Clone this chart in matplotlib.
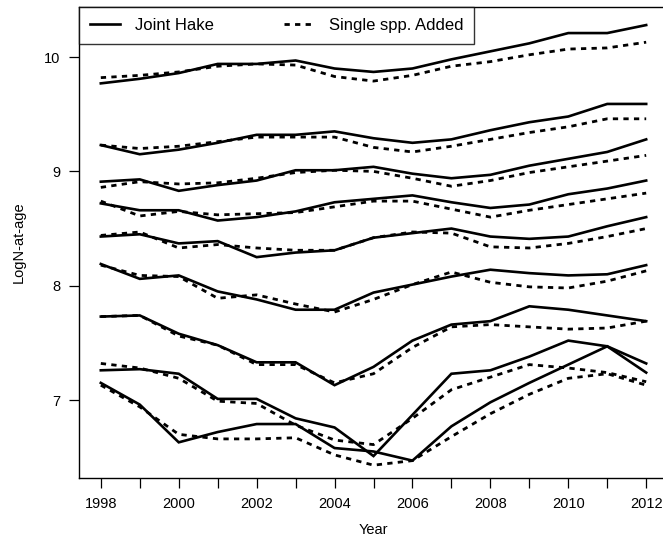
import numpy as np
import matplotlib.pyplot as plt

plt.rcParams['font.family'] = ['Liberation Sans', 'DejaVu Sans']

years = np.arange(1998, 2013)

# LogN-at-age by age class, Joint Hake (solid) and Single spp. Added (dashed)
joint = [
    [9.77, 9.81, 9.86, 9.94, 9.94, 9.97, 9.90, 9.87, 9.90, 9.98, 10.05, 10.12, 10.21, 10.21, 10.28],
    [9.23, 9.15, 9.19, 9.25, 9.32, 9.32, 9.35, 9.29, 9.25, 9.28, 9.36, 9.43, 9.48, 9.59, 9.59],
    [8.91, 8.93, 8.83, 8.88, 8.92, 9.01, 9.01, 9.04, 8.98, 8.94, 8.97, 9.05, 9.11, 9.17, 9.28],
    [8.72, 8.66, 8.66, 8.57, 8.60, 8.65, 8.73, 8.76, 8.79, 8.73, 8.68, 8.71, 8.80, 8.85, 8.92],
    [8.43, 8.45, 8.37, 8.39, 8.25, 8.29, 8.31, 8.42, 8.46, 8.50, 8.43, 8.41, 8.43, 8.52, 8.60],
    [8.19, 8.06, 8.09, 7.95, 7.88, 7.79, 7.79, 7.94, 8.01, 8.08, 8.14, 8.11, 8.09, 8.10, 8.18],
    [7.73, 7.74, 7.58, 7.48, 7.33, 7.33, 7.13, 7.29, 7.52, 7.66, 7.69, 7.82, 7.79, 7.74, 7.69],
    [7.26, 7.27, 7.23, 7.01, 7.01, 6.84, 6.76, 6.51, 6.87, 7.23, 7.26, 7.38, 7.52, 7.47, 7.32],
    [7.15, 6.96, 6.63, 6.72, 6.79, 6.79, 6.58, 6.55, 6.47, 6.77, 6.98, 7.15, 7.31, 7.47, 7.24],
]
single = [
    [9.82, 9.84, 9.87, 9.92, 9.94, 9.93, 9.83, 9.79, 9.84, 9.92, 9.96, 10.02, 10.07, 10.08, 10.13],
    [9.23, 9.20, 9.22, 9.26, 9.30, 9.30, 9.30, 9.21, 9.17, 9.22, 9.28, 9.34, 9.39, 9.46, 9.46],
    [8.86, 8.91, 8.89, 8.90, 8.94, 8.99, 9.01, 9.00, 8.94, 8.87, 8.92, 8.99, 9.04, 9.09, 9.14],
    [8.74, 8.61, 8.65, 8.62, 8.63, 8.64, 8.69, 8.74, 8.74, 8.67, 8.60, 8.66, 8.71, 8.76, 8.81],
    [8.44, 8.47, 8.33, 8.36, 8.33, 8.31, 8.31, 8.42, 8.47, 8.46, 8.34, 8.33, 8.37, 8.43, 8.50],
    [8.18, 8.09, 8.08, 7.89, 7.92, 7.84, 7.77, 7.88, 8.01, 8.12, 8.03, 7.99, 7.98, 8.04, 8.13],
    [7.73, 7.74, 7.56, 7.48, 7.31, 7.31, 7.15, 7.23, 7.46, 7.64, 7.66, 7.64, 7.62, 7.63, 7.69],
    [7.32, 7.28, 7.19, 6.99, 6.97, 6.78, 6.65, 6.61, 6.84, 7.09, 7.20, 7.31, 7.28, 7.24, 7.16],
    [7.13, 6.94, 6.70, 6.66, 6.66, 6.67, 6.52, 6.43, 6.47, 6.68, 6.88, 7.05, 7.19, 7.23, 7.13],
]

fig = plt.figure(figsize=(6.63, 5.39), dpi=100)
ax = fig.add_axes([79 / 663, 61 / 539, 589 / 663, 471 / 539])

for i in range(len(joint)):
    ax.plot(years, joint[i], color='black', lw=1.9, solid_joinstyle='miter',
            label='Joint Hake' if i == 0 else None)
    ax.plot(years, single[i], color='black', lw=2.0, dashes=(1.9, 1.9),
            dash_capstyle='butt', label='Single spp. Added' if i == 0 else None)

ax.set_xlim(1997.44, 2012.56)
ax.set_ylim(6.318, 10.438)
ax.set_xticks(years)
ax.set_xticklabels([str(y) if y % 2 == 0 else '' for y in years])
ax.set_yticks([7, 8, 9, 10])
ax.tick_params(direction='out', length=7.5, width=0.9, labelsize=10.5, pad=6, colors='black')
for s in ax.spines.values():
    s.set_linewidth(1.0)

ax.set_xlabel('Year', fontsize=10.5, labelpad=9)
ax.set_ylabel('LogN-at-age', fontsize=10.5, labelpad=13)

leg = ax.legend(loc='upper left', bbox_to_anchor=(0, 1), borderaxespad=0, ncol=2,
                fontsize=12, frameon=True, fancybox=False, handlelength=1.8,
                handletextpad=0.9, columnspacing=4.2, borderpad=0.65)
leg.get_frame().set_edgecolor('black')
leg.get_frame().set_linewidth(1.0)

fig.savefig('out.png', dpi=100)
